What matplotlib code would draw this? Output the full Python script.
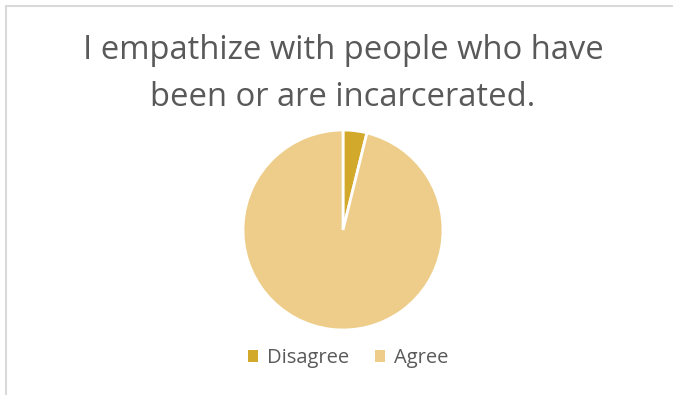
import matplotlib.pyplot as plt
from matplotlib.patches import Rectangle, Patch

labels = ["Disagree", "Agree"]
counts = [1, 25]
colors = ["#D3A92B", "#EDCD89"]
title = "I empathize with people who have\nbeen or are incarcerated."

W, H = 673, 395
fig = plt.figure(figsize=(W / 100, H / 100), dpi=100)
fig.patch.set_facecolor("white")

# light chart-area border
fig.patches.append(Rectangle((6 / W, -0.1), 1.2, 1 - 6 / H + 0.1,
                             transform=fig.transFigure, fill=False,
                             edgecolor="#D9D9D9", linewidth=1.5))

# pie: center (343, 230), radius 100 px
r = 100
ax = fig.add_axes([(343 - r) / W, (H - 230 - r) / H, 2 * r / W, 2 * r / H])
ax.pie(counts, colors=colors, startangle=90, counterclock=False,
       wedgeprops=dict(edgecolor="white", linewidth=2))
ax.set_xlim(-1, 1)
ax.set_ylim(-1, 1)
ax.set_aspect("equal")
ax.axis("off")

fig.text(343 / W, 1 - 74 / H, title, ha="center", va="center",
         fontsize=23.6, color="#595959", family="Open Sans", linespacing=1.55)

handles = [Patch(facecolor=c, edgecolor="none") for c in colors]
leg = fig.legend(handles, labels, loc="center", bbox_to_anchor=(348 / W, 1 - 358 / H),
                 ncol=2, frameon=False, handlelength=0.5, handleheight=0.5,
                 handletextpad=0.45, columnspacing=1.3,
                 prop={"family": "Open Sans", "size": 14.5})
for t in leg.get_texts():
    t.set_color("#595959")

fig.savefig("out.png", dpi=100)
